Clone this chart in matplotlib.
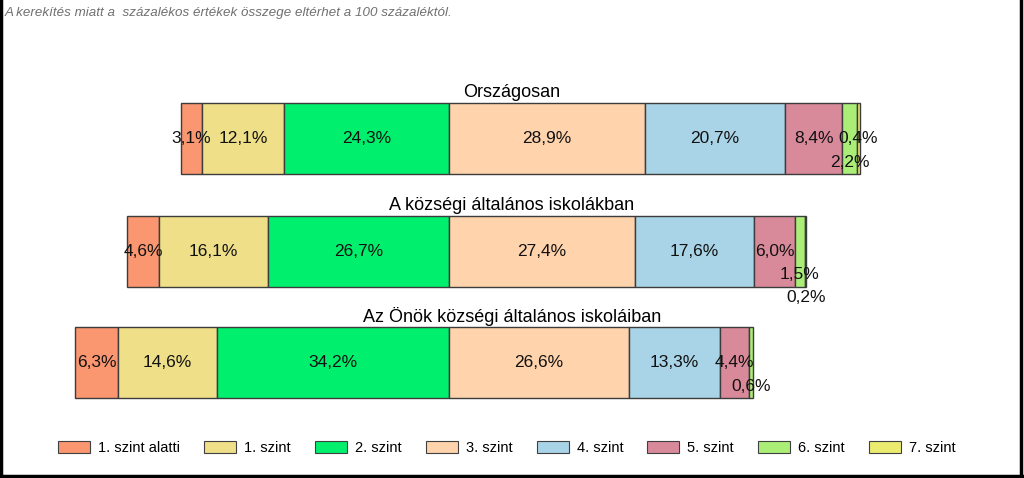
import matplotlib.pyplot as plt
from matplotlib.lines import Line2D
from matplotlib import font_manager

groups = ['Országosan', 'A községi általános iskolákban', 'Az Önök községi általános iskoláiban']
levels = ['1. szint alatti', '1. szint', '2. szint', '3. szint', '4. szint', '5. szint', '6. szint', '7. szint']
colors = ['#FA9670', '#EEDF88', '#00F06E', '#FFD3AC', '#A9D3E6', '#D98A9A', '#AAEE78', '#EBEB70']

values = [
    [3.1, 12.1, 24.3, 28.9, 20.7, 8.4, 2.2, 0.4],
    [4.6, 16.1, 26.7, 27.4, 17.6, 6.0, 1.5, 0.2],
    [6.3, 14.6, 34.2, 26.6, 13.3, 4.4, 0.6, 0.0],
]
labels = [
    ['3,1%', '12,1%', '24,3%', '28,9%', '20,7%', '8,4%', '2,2%', '0,4%'],
    ['4,6%', '16,1%', '26,7%', '27,4%', '17,6%', '6,0%', '1,5%', '0,2%'],
    ['6,3%', '14,6%', '34,2%', '26,6%', '13,3%', '4,4%', '0,6%', ''],
]

# label shifts (in bar units) for the small segments, to avoid overlap
shift = {(0, 6): 0.22, (1, 6): 0.21, (1, 7): 0.41, (2, 6): 0.22}

plt.rcParams['font.family'] = ['Liberation Sans', 'DejaVu Sans']

fig = plt.figure(figsize=(10.24, 4.78), dpi=100)
ax = fig.add_axes([0.0, 0.0, 1.0, 1.0])
ax.set_xlim(-66.2, 84.8)
ax.set_ylim(4.268, -0.0)
ax.axis('off')

ypos = [1.235, 2.245, 3.235]
for i, row in enumerate(values):
    y = ypos[i]
    left = -(row[0] + row[1] + row[2])
    for j, v in enumerate(row):
        if v > 0:
            ax.barh(y, v, left=left, height=0.63, color=colors[j],
                    edgecolor='#3c3c3c', linewidth=1.0)
        if labels[i][j]:
            ax.text(left + v / 2, y + shift.get((i, j), 0), labels[i][j],
                    ha='center', va='center', fontsize=12.5, color='#111111')
        left += v
    ax.text(9.3, y - 0.41, groups[i], ha='center', va='center', fontsize=13)

fig.text(0.005, 0.985, 'A kerekítés miatt a  százalékos értékek összege eltérhet a 100 százaléktól.',
         ha='left', va='top', fontsize=9.6, style='italic', color='#707070')

names = [f.name for f in font_manager.fontManager.ttflist]
if 'Liberation Sans Narrow' in names:
    leg_font = {'family': 'Liberation Sans Narrow', 'size': 12.5}
else:
    leg_font = {'family': 'Liberation Sans', 'size': 10.5}

handles = [plt.Rectangle((0, 0), 1, 1, facecolor=c, edgecolor='#404040', linewidth=0.8) for c in colors]
fig.legend(handles, levels, loc='center', bbox_to_anchor=(0.495, 0.063), ncol=8, frameon=False,
           prop=leg_font, handlelength=2.2, handleheight=0.95, columnspacing=1.65, handletextpad=0.55)

# outer frame (left, right, bottom)
for xs, ys in [([0.001, 0.001], [0, 1]), ([0.997, 0.997], [0, 1]), ([0, 1], [0.004, 0.004])]:
    fig.add_artist(Line2D(xs, ys, color='black', linewidth=2.5, transform=fig.transFigure))

fig.savefig('out.png', dpi=100)
